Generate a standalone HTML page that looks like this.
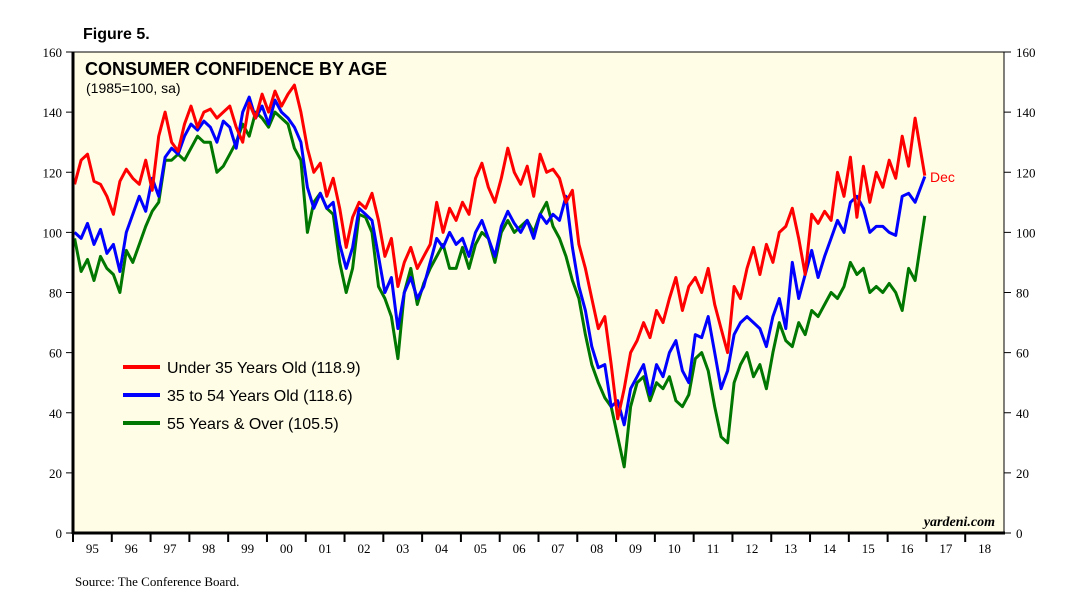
<!DOCTYPE html>
<html><head><meta charset="utf-8">
<style>
html,body{margin:0;padding:0;background:#fff;width:1068px;height:606px;overflow:hidden}
svg{display:block}
.ser{font-family:"Liberation Serif",serif}
.san{font-family:"Liberation Sans",sans-serif}
</style></head>
<body>
<svg id="chart" width="1068" height="606">
<text x="83" y="39" class="san" font-size="16" font-weight="bold">Figure 5.</text>
<rect x="73" y="52" width="931" height="481" fill="#fffde6" stroke="#000" stroke-width="1"/>
<g id="grid"></g>
<g id="series"></g>
<text x="85" y="75" class="san" font-size="18" font-weight="bold">CONSUMER CONFIDENCE BY AGE</text>
<text x="86" y="93" class="san" font-size="14">(1985=100, sa)</text>
<g>
<line x1="123" y1="367" x2="160" y2="367" stroke="#ff0000" stroke-width="4"/>
<text x="167" y="373" class="san" font-size="16">Under 35 Years Old (118.9)</text>
<line x1="123" y1="395" x2="160" y2="395" stroke="#0000ff" stroke-width="4"/>
<text x="167" y="401" class="san" font-size="16">35 to 54 Years Old (118.6)</text>
<line x1="123" y1="423" x2="160" y2="423" stroke="#007700" stroke-width="4"/>
<text x="167" y="429" class="san" font-size="16">55 Years &amp; Over (105.5)</text>
</g>
<text x="930" y="182" class="san" font-size="14" fill="#ff0000">Dec</text>
<text x="995" y="526" class="ser" font-size="14" font-weight="bold" font-style="italic" text-anchor="end">yardeni.com</text>
<line x1="73" y1="52" x2="73" y2="534" stroke="#000" stroke-width="3"/>
<line x1="72" y1="533" x2="1005" y2="533" stroke="#000" stroke-width="3"/>
<line x1="1004" y1="52" x2="1004" y2="534" stroke="#000" stroke-width="1"/>
<text x="75" y="586" class="ser" font-size="13">Source: The Conference Board.</text>
</svg>
<script>
const yTicks=[0,20,40,60,80,100,120,140,160];
const years=["95","96","97","98","99","00","01","02","03","04","05","06","07","08","09","10","11","12","13","14","15","16","17","18"];
const under35=[116,124,126,117,116,112, 106,117,121,118,116,124, 114,132,140,130,127,136, 142,135,140,141,138,140, 142,135,130,143,138,146, 140,147,142,146,149,140, 128,120,123,112,118,108, 95,105,110,108,113,104, 92,98,82,90,95,88, 92,96,110,100,108,104, 110,106,118,123,115,110, 118,128,120,116,122,112, 126,120,121,118,110,114, 96,88,78,68,72,56, 38,48,60,64,70,65, 74,70,78,85,74,82, 85,80,88,76,68,60, 82,78,88,95,86,96, 90,100,102,108,98,86, 106,103,107,104,120,112, 125,105,122,110,120,115, 124,118,132,122,138,118.9];
const age35to54=[100,98,103,96,101,93, 96,87,100,106,112,107, 118,112,125,128,126,132, 136,134,137,135,130,137, 135,128,140,145,138,142, 136,144,140,138,135,130, 115,108,113,108,110,96, 88,95,108,106,104,92, 80,85,68,80,85,78, 82,90,98,95,100,96, 98,92,100,104,98,92, 102,107,103,100,104,98, 106,103,106,104,112,95, 82,74,62,55,56,42, 44,36,48,52,56,46, 56,52,60,64,54,50, 66,65,72,60,48,54, 66,70,72,70,68,62, 72,78,68,90,78,86, 94,85,92,98,104,100, 110,112,108,100,102,102, 100,99,112,113,110,118.6];
const age55over=[98,87,91,84,92,88, 86,80,94,90,96,102, 107,110,124,124,126,124, 128,132,130,130,120,122, 126,130,136,132,140,138, 135,140,138,136,128,124, 100,110,113,108,106,90, 80,88,106,105,100,82, 78,72,58,80,88,76, 83,88,92,96,88,88, 95,88,96,100,98,90, 100,104,100,102,104,100, 106,110,102,98,92,84, 78,66,56,50,45,42, 32,22,42,50,52,44, 50,48,52,44,42,46, 58,60,54,42,32,30, 50,56,60,52,56,48, 60,70,64,62,70,66, 74,72,76,80,78,82, 90,86,88,80,82,80, 83,80,74,88,84,105.5];

const X0=73,X1=1004,Y0=533,Y1=52,NM=years.length*12;
const xs=m=>X0+(m+0.5)*(X1-X0)/NM;
const ys=v=>Y0-v*(Y0-Y1)/160;
const NS="http://www.w3.org/2000/svg";
const g=document.getElementById('grid'), sg=document.getElementById('series');
function mk(tag,attrs,parent){const e=document.createElementNS(NS,tag);for(const k in attrs)e.setAttribute(k,attrs[k]);parent.appendChild(e);return e;}
yTicks.forEach(v=>{
  const y=ys(v);
  const t1=mk('line',{x1:66,x2:73,y1:y,y2:y,stroke:'#000','stroke-width':1},g);
  
  
  const t2=mk('line',{x1:1004,x2:1011,y1:y,y2:y,stroke:'#000','stroke-width':1},g);
  
  
  const l=mk('text',{x:62,y:y+5,'text-anchor':'end','font-size':13,'class':'ser'},g);l.textContent=v;
  
  
  const r=mk('text',{x:1016,y:y+5,'font-size':13,'class':'ser'},g);r.textContent=v;
  
  
});
years.forEach((yr,i)=>{
  const xb=X0+i*12*(X1-X0)/NM;
  const tk=mk('line',{x1:xb,x2:xb,y1:533,y2:542,stroke:'#000','stroke-width':2},g);
  
  
  const t=mk('text',{x:xb+(X1-X0)/years.length/2,y:553,'text-anchor':'middle','font-size':13,'class':'ser'},g);t.textContent=yr;
  
  
});
function monthOf(i,n){return i===n-1?263:i*2;}
function draw(arr,color,name){
  const pts=arr.map((v,i)=>xs(monthOf(i,arr.length)).toFixed(1)+','+ys(v).toFixed(1)).join(' ');
  const p=mk('polyline',{points:pts,fill:'none',stroke:color,'stroke-width':3,'stroke-linejoin':'round'},sg);
  
  
}
draw(age55over,'#007700','line-55-and-over');
draw(age35to54,'#0000ff','line-35-to-54');
draw(under35,'#ff0000','line-under-35');
</script>
</body></html>
